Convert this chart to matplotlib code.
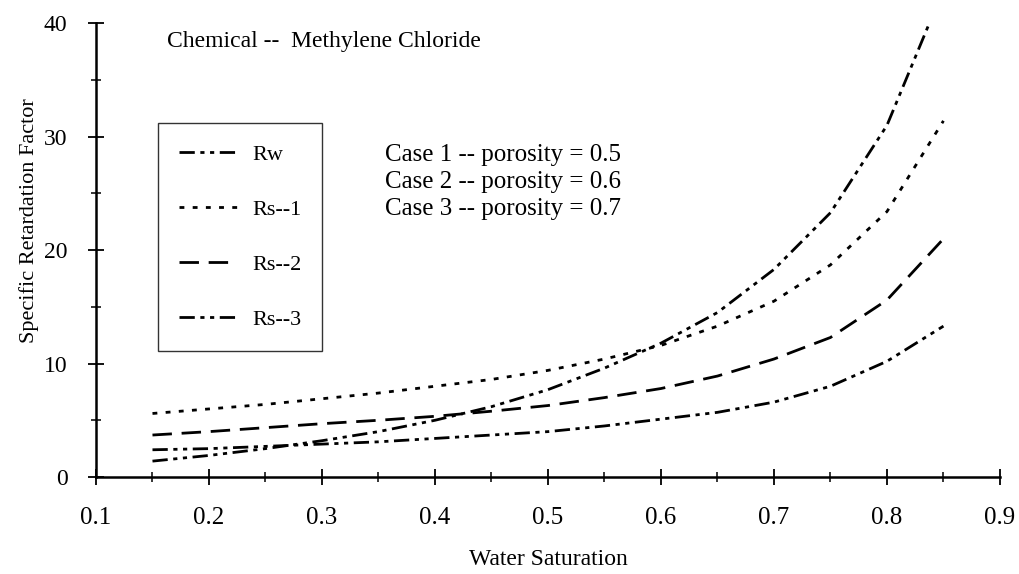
import matplotlib
matplotlib.use('Agg')
import matplotlib.pyplot as plt
from matplotlib.ticker import MultipleLocator
import numpy as np

plt.rcParams.update({'font.family': 'Liberation Serif', 'font.size': 17,
                     'lines.scale_dashes': False})

# water saturation and retardation factors
sw = [0.15, 0.20, 0.25, 0.30, 0.35, 0.40, 0.45, 0.50, 0.55, 0.60, 0.65, 0.70, 0.75, 0.80, 0.85]
rw = [1.4, 1.9, 2.5, 3.2, 4.0, 5.0, 6.2, 7.7, 9.6, 11.8, 14.5, 18.3, 23.3, 31.0, 43.0]
rs1 = [5.6, 6.0, 6.4, 6.9, 7.4, 8.0, 8.6, 9.4, 10.4, 11.6, 13.3, 15.5, 18.7, 23.4, 31.4]
rs2 = [3.7, 4.0, 4.35, 4.7, 5.0, 5.35, 5.8, 6.3, 7.0, 7.8, 8.9, 10.4, 12.3, 15.6, 21.0]
rs3 = [2.4, 2.5, 2.7, 2.9, 3.1, 3.4, 3.7, 4.0, 4.5, 5.1, 5.7, 6.6, 8.0, 10.2, 13.3]
labels = ['Rw', 'Rs--1', 'Rs--2', 'Rs--3']
cases = ['Case 1 -- porosity = 0.5', 'Case 2 -- porosity = 0.6', 'Case 3 -- porosity = 0.7']

styles = [(0, (11, 4, 3, 4, 3, 4)),
          (0, (3.5, 6)),
          (0, (14, 7)),
          (0, (11, 4, 3, 4, 3, 4))]

fig = plt.figure(figsize=(10.19, 5.74), dpi=100)
ax = fig.add_axes([0.0942, 0.169, 0.8871, 0.7904])

for ys, lab, ls in zip([rw, rs1, rs2, rs3], labels, styles):
    ax.plot(sw, ys, color='black', lw=2.0, linestyle=ls, label=lab)

ax.set_xlim(0.1, 0.9); ax.set_ylim(0, 40)
ax.xaxis.set_major_locator(MultipleLocator(0.1))
ax.xaxis.set_minor_locator(MultipleLocator(0.05))
ax.yaxis.set_major_locator(MultipleLocator(10))
ax.yaxis.set_minor_locator(MultipleLocator(5))
ax.set_xticklabels([f'{v:.1f}' for v in ax.get_xticks()])
ax.tick_params(which='major', direction='inout', length=11, width=1.3)
ax.tick_params(which='minor', direction='inout', length=6.5, width=1.1)
ax.tick_params(axis='x', which='major', pad=16, labelsize=18)
ax.tick_params(axis='y', which='major', pad=15, labelsize=17)
for s in ['top', 'right']:
    ax.spines[s].set_visible(False)
for s in ['left', 'bottom']:
    ax.spines[s].set_linewidth(1.8)

ax.set_xlabel('Water Saturation', fontsize=17)
ax.xaxis.set_label_coords(0.5, -(560 - 477) / 454, transform=ax.transAxes)
ax.xaxis.label.set_va('center')
ax.set_ylabel('Specific Retardation Factor', fontsize=16, va='center')
ax.yaxis.set_label_coords((29 - 96) / 904, (477 - 220) / 454)

ax.text(0.1628, 37.9, 'Chemical --  Methylene Chloride', fontsize=17, va='baseline')
for i, c in enumerate(cases):
    ax.text(0.3558, 27.9 - 2.4 * i, c, fontsize=18, va='baseline')

leg = ax.legend(loc='upper left', bbox_to_anchor=(158 / 1019, 1 - 123 / 574),
                bbox_transform=fig.transFigure, fontsize=16, frameon=True,
                fancybox=False, edgecolor='black', handlelength=2.6,
                handletextpad=0.68, labelspacing=1.55, borderpad=0.95,
                borderaxespad=0)
leg.get_frame().set_linewidth(1.0)

plt.savefig('out.png', dpi=100)
